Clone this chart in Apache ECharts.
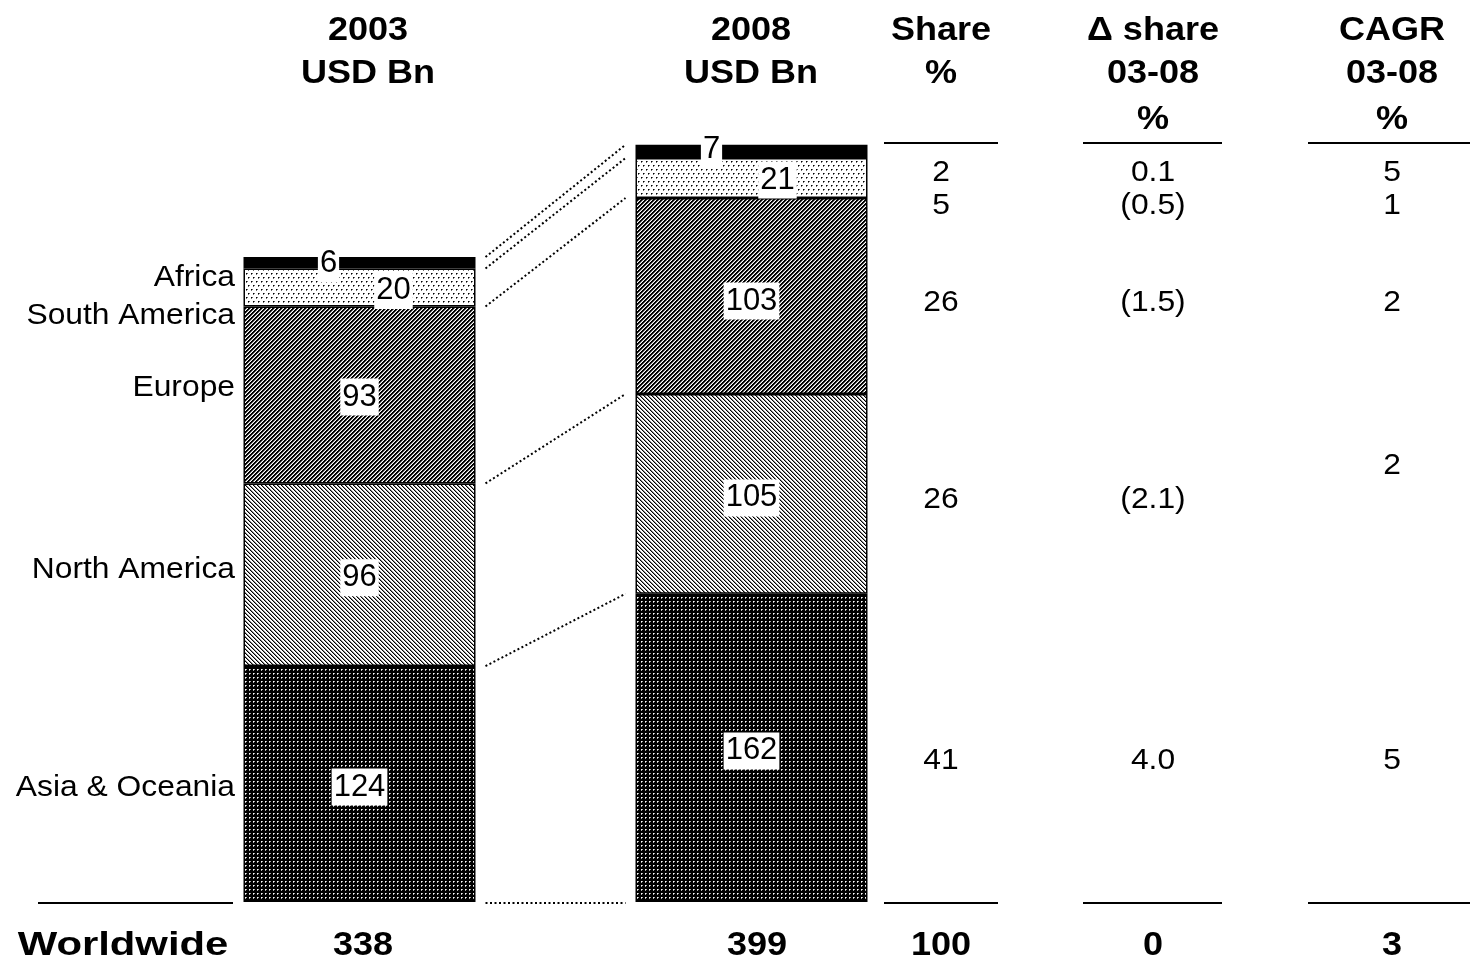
<!DOCTYPE html>
<html>
<head>
<meta charset="utf-8">
<script src="https://cdn.jsdelivr.net/npm/echarts@6/dist/echarts.min.js"></script>
<style>
  html, body { margin: 0; padding: 0; background: #fff; }
  #chart { width: 1471px; height: 963px; }
</style>
</head>
<body>
<div id="chart"></div>
<script>
// ---- data ----
const years = ['2003', '2008'];
const regions = ['Asia & Oceania', 'North America', 'Europe', 'South America', 'Africa'];
const values2003 = [124, 96, 93, 20, 6];
const values2008 = [162, 105, 103, 21, 7];
const totals = ['338', '399'];
const shareCol = ['41', '26', '26', '5', '2'];
const deltaCol = ['4.0', '(2.1)', '(1.5)', '(0.5)', '0.1'];
const cagrCol = ['5', '2', '2', '1', '5'];
const totalRow = ['100', '0', '3'];
const headers = [['2003', 'USD Bn'], ['2008', 'USD Bn'], ['Share', '%'], ['\u0394 share', '03-08', '%'], ['CAGR', '03-08', '%']];

// ---- layout (pixels) ----
const FONT = '"Liberation Sans", Arial, Helvetica, sans-serif';
const SX = 1.06;                       // slight horizontal widening of the text
const headerX = [368, 751, 941, 1153, 1392];
const headerY = [31, 74, 120];
const regionLabelY = [788, 570, 388, 316, 278];     // same order as regions
const shareY = [761, 500, 303, 206, 173];
const deltaY = [761, 500, 303, 206, 173];
const cagrY = [761, 466, 303, 206, 173];
const labelOffsets = {
  '2003': [[0, 3], [0, 3], [0, 2], [34, 3], [-31, 1]],
  '2008': [[0, 3], [0, 4], [0, 5], [26, 2], [-40, -2]]
};
const totalsY = 946;

// ---- fill patterns ----
function tile(w, h, fn) {
  const c = document.createElement('canvas');
  c.width = w; c.height = h;
  const g = c.getContext('2d');
  const img = g.createImageData(w, h);
  for (let y = 0; y < h; y++) {
    for (let x = 0; x < w; x++) {
      const v = fn(x, y);
      const i = (y * w + x) * 4;
      img.data[i] = img.data[i + 1] = img.data[i + 2] = v;
      img.data[i + 3] = 255;
    }
  }
  g.putImageData(img, 0, 0);
  return { image: c, repeat: 'repeat' };
}
const fills = [
  // Asia & Oceania: dark with small light dots
  tile(4, 4, (x, y) => {
    if (x === 1 && y === 1) return 255;
    if ((x === 2 && y === 1) || (x === 1 && y === 2)) return 170;
    return 0;
  }),
  // North America: light back-diagonal hatch
  tile(4, 4, (x, y) => {
    const m = ((x - y) % 4 + 4) % 4;
    return m === 0 ? 0 : (m === 1 ? 140 : 255);
  }),
  // Europe: dark forward-diagonal hatch
  tile(4, 4, (x, y) => {
    const m = (x + y) % 4;
    return m < 2 ? 0 : (m === 2 ? 140 : 255);
  }),
  // South America: sparse dots
  tile(10, 8, (x, y) => {
    const dots = [[1, 1], [6, 1], [3, 5], [8, 5]];
    for (const [dx, dy] of dots) {
      if (x === dx && y === dy) return 0;
      if ((x === dx + 1 && y === dy) || (x === dx && y === dy + 1)) return 110;
    }
    return 255;
  }),
  // Africa: solid
  '#000'
];

const chart = echarts.init(document.getElementById('chart'), null, { renderer: 'canvas' });

const series = regions.map((name, i) => ({
  name,
  type: 'bar',
  stack: 'total',
  barWidth: 232,
  data: years.map((yr, j) => ({
    value: (j === 0 ? values2003 : values2008)[i],
    label: { offset: labelOffsets[yr][i] }
  })),
  itemStyle: { color: fills[i], borderColor: '#000', borderWidth: 1.5 },
  label: {
    show: true,
    position: 'inside',
    formatter: p => String(p.value),
    color: '#000',
    fontFamily: FONT,
    fontSize: 31,
    backgroundColor: '#fff',
    padding: [4, 2, 2, 2]
  },
  emphasis: { disabled: true },
  silent: true,
  animation: false
}));

chart.setOption({
  animation: false,
  backgroundColor: '#fff',
  grid: { left: 163.5, width: 784, top: 141, bottom: 61 },
  xAxis: { type: 'category', data: years, show: false },
  yAxis: { type: 'value', min: 0, max: 400, show: false },
  series
});

// ---- annotations ----
function text(str, x, y, opts) {
  opts = opts || {};
  const align = opts.align || 'center';
  return {
    type: 'text', x, y, scaleX: opts.sx || SX, silent: true,
    style: {
      text: str,
      font: (opts.bold ? 'bold ' : '') + (opts.size || 30) + 'px ' + FONT,
      fill: '#000',
      align, textAlign: align,
      verticalAlign: 'middle', textVerticalAlign: 'middle'
    }
  };
}
function rule(x1, x2, y) {
  return { type: 'line', silent: true, shape: { x1, y1: y, x2, y2: y }, style: { stroke: '#000', lineWidth: 2 } };
}

const g = [];
// headers
headers.forEach((lines, c) => lines.forEach((t, r) => g.push(text(t, headerX[c], headerY[r], { bold: true, size: 34 }))));
// region names
regions.forEach((r, i) => g.push(text(r, 235, regionLabelY[i], { align: 'right' })));
// table columns
regions.forEach((r, i) => {
  g.push(text(shareCol[i], headerX[2], shareY[i]));
  g.push(text(deltaCol[i], headerX[3], deltaY[i]));
  g.push(text(cagrCol[i], headerX[4], cagrY[i]));
});
// totals row
g.push(text('Worldwide', 123, totalsY, { bold: true, size: 34, sx: 1.23 }));
g.push(text(totals[0], 363, totalsY, { bold: true, size: 34 }));
g.push(text(totals[1], 757, totalsY, { bold: true, size: 34 }));
totalRow.forEach((t, k) => g.push(text(t, headerX[2 + k], totalsY, { bold: true, size: 34 })));
// rules
const colSpans = [[884, 998], [1083, 1222], [1308, 1470]];
colSpans.forEach(([a, b]) => { g.push(rule(a, b, 143)); g.push(rule(a, b, 903)); });
g.push(rule(38, 233, 903));

// dotted connectors between stack boundaries of the two bars
const half = 116;
let c03 = 0, c08 = 0;
for (let k = 0; k <= regions.length; k++) {
  const p1 = chart.convertToPixel({ gridIndex: 0 }, [years[0], c03]);
  const p2 = chart.convertToPixel({ gridIndex: 0 }, [years[1], c08]);
  g.push({
    type: 'line', silent: true,
    shape: { x1: p1[0] + half + 10, y1: p1[1] + (k === 0 ? 1 : 0), x2: p2[0] - half - 10, y2: p2[1] + (k === 0 ? 1 : 0) },
    style: { stroke: '#000', lineWidth: 2, lineDash: [2, 2.5] }
  });
  if (k < regions.length) { c03 += values2003[k]; c08 += values2008[k]; }
}

chart.setOption({ graphic: { elements: g } });
</script>
</body>
</html>
